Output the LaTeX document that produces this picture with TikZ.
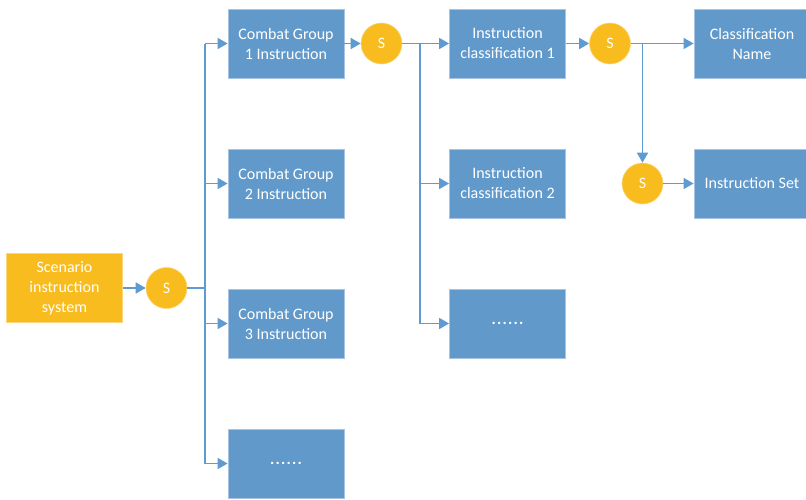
\documentclass[tikz,border=0pt]{standalone}
\usepackage{fontspec}
\setmainfont{Carlito}
\usetikzlibrary{arrows.meta}
\definecolor{boxblue}{HTML}{6199CB}
\definecolor{boxedge}{HTML}{A7C4E2}
\definecolor{gold}{HTML}{F9BC1E}
\definecolor{goldedge}{HTML}{FAD67A}
\definecolor{wire}{HTML}{5F9AD0}
\tikzset{
  bluebox/.style={rectangle, fill=boxblue, draw=boxedge, line width=0.8pt,
    minimum width=116pt, minimum height=69pt, inner sep=0pt, text=white,
    align=center, font=\fontsize{16}{20}\selectfont},
  goldbox/.style={bluebox, fill=gold, draw=goldedge},
  sjoin/.style={circle, fill=gold, draw=goldedge, line width=0.6pt,
    minimum size=41pt, inner sep=0pt, text=white, font=\fontsize{16}{20}\selectfont},
  link/.style={draw=wire, line width=1.6pt, -{Triangle[length=10pt,width=11pt]}},
  plain/.style={draw=wire, line width=1.6pt},
}
\newcommand{\dotrow}{\textbf{.\kern1.2pt.\kern1.2pt.\kern1.2pt.\kern1.2pt.\kern1.2pt.}}
\begin{document}
\begin{tikzpicture}[x=1pt,y=-1pt]
\useasboundingbox (0,0) rectangle (806,499);
% sources and junctions
\node[goldbox] (scen) at (64.5,288) {Scenario\\instruction\\system};
\node[sjoin] (s1) at (166.5,288) {S};
% combat groups
\node[bluebox] (cg1) at (286,43.5) {Combat Group\\1 Instruction};
\node[bluebox] (cg2) at (286,183.5) {Combat Group\\2 Instruction};
\node[bluebox] (cg3) at (286,323.5) {Combat Group\\3 Instruction};
\node[bluebox] (cg4) at (286,463.5) {\dotrow};
\node[sjoin] (s2) at (381.5,43.5) {S};
% instruction classifications
\node[bluebox] (ic1) at (507.5,43.5) {Instruction\\classification 1};
\node[bluebox] (ic2) at (507.5,183.5) {Instruction\\classification 2};
\node[bluebox] (ic3) at (507.5,323.5) {\dotrow};
\node[sjoin] (s3) at (610,43.5) {S};
\node[sjoin] (s4) at (642.5,183.5) {S};
% leaves
\node[bluebox] (cname) at (752,43.5) {Classification\\Name};
\node[bluebox] (iset) at (752,183.5) {Instruction Set};
% bus junction points
\coordinate (b1) at (205,288);
\coordinate (b2) at (420,43.5);
\coordinate (b3) at (642.5,43.5);
% connectors
\draw[link] (scen) -- (s1);
\draw[plain] (s1) -- (b1);
\draw[plain] (b1 |- cg1) -- (b1 |- cg4);
\draw[link] (b1 |- cg1) -- (cg1);
\draw[link] (b1 |- cg2) -- (cg2);
\draw[link] (b1 |- cg3) -- (cg3);
\draw[link] (b1 |- cg4) -- (cg4);
\draw[link] (cg1) -- (s2);
\draw[plain] (s2) -- (b2);
\draw[plain] (b2) -- (b2 |- ic3);
\draw[link] (b2) -- (ic1);
\draw[link] (b2 |- ic2) -- (ic2);
\draw[link] (b2 |- ic3) -- (ic3);
\draw[link] (ic1) -- (s3);
\draw[link] (s3) -- (cname);
\draw[link] (b3) -- (s4);
\draw[link] (s4) -- (iset);
\end{tikzpicture}
\end{document}
